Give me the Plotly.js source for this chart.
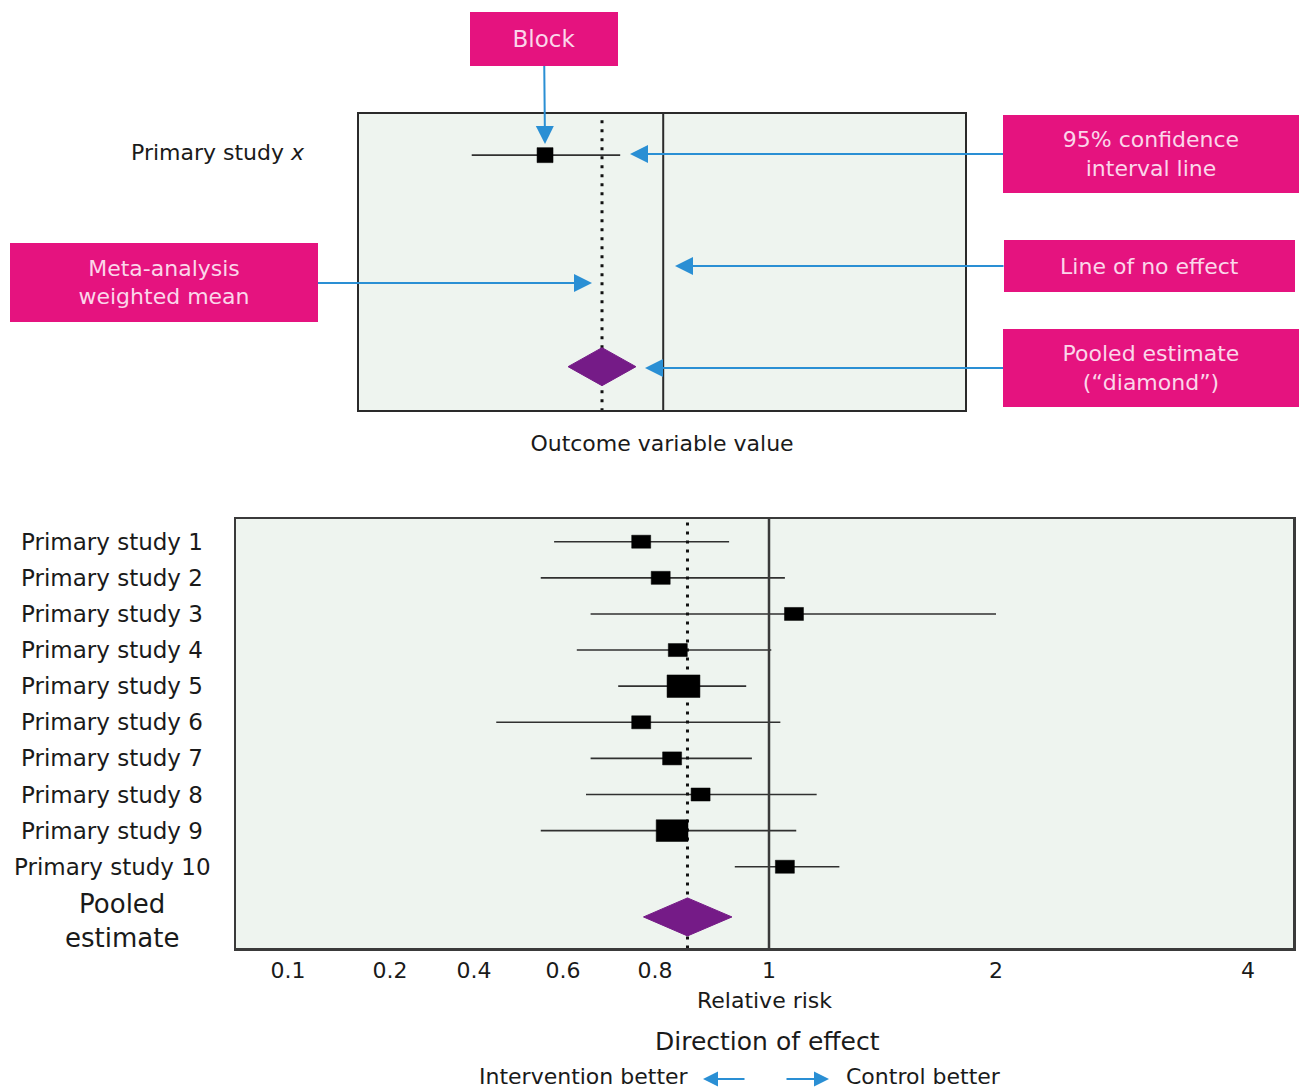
<!DOCTYPE html>
<html>
<head>
<meta charset="utf-8">
<script src="https://cdn.plot.ly/plotly-3.0.1.min.js"></script>
<style>
  html, body { margin: 0; padding: 0; background: #ffffff; }
  #chart { width: 1304px; height: 1090px; }
</style>
</head>
<body>
<div id="chart"></div>
<script>
// ---------------- data ----------------
const studyNames = ['Primary study 1', 'Primary study 2', 'Primary study 3', 'Primary study 4',
  'Primary study 5', 'Primary study 6', 'Primary study 7', 'Primary study 8',
  'Primary study 9', 'Primary study 10'];
const rrEstimate = [0.77, 0.81, 1.11, 0.84, 0.85, 0.77, 0.83, 0.88, 0.83, 1.07];
const rrLower    = [0.58, 0.55, 0.66, 0.63, 0.72, 0.45, 0.66, 0.65, 0.55, 0.94];
const rrUpper    = [0.93, 1.07, 2.00, 1.01, 0.96, 1.05, 0.97, 1.21, 1.12, 1.31];
const studyWeight = [1, 1, 1, 1, 3, 1, 1, 1, 2.8, 1];   // relative weight (block area)

const pooledLabel = 'Pooled<br>estimate';
const pooledRR = [0.775, 0.857, 0.935];                  // lower, estimate, upper
const noEffectRR = 1;

const tickValues = [0.1, 0.2, 0.4, 0.6, 0.8, 1, 2, 4];
const tickLabels = ['0.1', '0.2', '0.4', '0.6', '0.8', '1', '2', '4'];

// top explanatory panel (arbitrary outcome units, no ticks)
const exampleLabel = 'Primary study <i>x</i>';
const exampleStudy = [1.86, 3.07, 4.31];                 // lower, estimate, upper
const examplePooled = [3.45, 4.01, 4.57];                // lower, estimate, upper
const exampleNoEffect = 5.02;

// ---------------- scale (schematic, non-uniform relative-risk axis) ----------------
// where each tick value sits along the drawn axis (axis units == pixels of plot width)
const axisStops = [52, 154, 238, 327, 419, 533, 760, 1012];
function rrToAxis(v) {
  for (let i = 0; i < tickValues.length - 1; i++) {
    const a = tickValues[i], b = tickValues[i + 1];
    if (v <= b || i === tickValues.length - 2) {
      return axisStops[i] + (v - a) / (b - a) * (axisStops[i + 1] - axisStops[i]);
    }
  }
}

// ---------------- layout geometry ----------------
const W = 1304, H = 1090;
const fx = p => p / W;
const fy = p => 1 - p / H;
const ROWPX = 36.1;              // pixels per row unit (both panels)
const BOTTOM_RANGE = [12.25, 0.371];
const TOP_RANGE = [8.2, 0];
const TOP_UNIT_PX = 60.6;        // pixels per outcome unit in top panel

const blockBaseW = 19, blockBaseH = 13;    // px for weight 1
const diamondHalfH = 19;                   // px
const pooledRow = 11.39;
const exampleRow = 1.14, examplePooledRow = 7.0;

const ciColor = '#303030';
const frameColor = '#3a3a3a';
const purple = '#751b87';
const pink = '#e5137f';
const pinkText = '#fbd6ea';
const blue = '#2a8fd4';

const traces = [];

function rectTrace(cx, cy, w, h, xa, ya) {
  return { type: 'scatter', mode: 'lines', fill: 'toself', fillcolor: '#000',
    x: [cx - w / 2, cx + w / 2, cx + w / 2, cx - w / 2, cx - w / 2],
    y: [cy - h / 2, cy - h / 2, cy + h / 2, cy + h / 2, cy - h / 2],
    xaxis: xa, yaxis: ya, line: { color: '#000', width: 0.5 }, hoverinfo: 'skip' };
}

// --- bottom panel ---
const rows = studyNames.map((_, i) => i + 1);
const ciX = [], ciY = [];
rows.forEach((r, i) => {
  ciX.push(rrToAxis(rrLower[i]), rrToAxis(rrUpper[i]), null);
  ciY.push(r, r, null);
});
traces.push({ type: 'scatter', mode: 'lines', x: ciX, y: ciY, xaxis: 'x', yaxis: 'y',
  line: { color: ciColor, width: 1.6 }, hoverinfo: 'skip' });

// weighted mean (dotted)
traces.push({ type: 'scatter', mode: 'lines', x: [rrToAxis(pooledRR[1]), rrToAxis(pooledRR[1])],
  y: [0.47, BOTTOM_RANGE[0]], xaxis: 'x', yaxis: 'y',
  line: { color: '#111', width: 3, dash: '3px,6px' }, hoverinfo: 'skip' });

// line of no effect
traces.push({ type: 'scatter', mode: 'lines', x: [rrToAxis(noEffectRR), rrToAxis(noEffectRR)],
  y: [BOTTOM_RANGE[1], BOTTOM_RANGE[0]], xaxis: 'x', yaxis: 'y',
  line: { color: frameColor, width: 2.5 }, hoverinfo: 'skip' });

// blocks centred on the estimate, size from weight
rows.forEach((r, i) => {
  const s = Math.sqrt(studyWeight[i]);
  traces.push(rectTrace(rrToAxis(rrEstimate[i]), r, blockBaseW * s, blockBaseH * s / ROWPX, 'x', 'y'));
});

// pooled diamond
const dh = diamondHalfH / ROWPX;
traces.push({ type: 'scatter', mode: 'lines', fill: 'toself', fillcolor: purple,
  x: [rrToAxis(pooledRR[0]), rrToAxis(pooledRR[1]), rrToAxis(pooledRR[2]), rrToAxis(pooledRR[1]), rrToAxis(pooledRR[0])],
  y: [pooledRow, pooledRow - dh, pooledRow, pooledRow + dh, pooledRow],
  xaxis: 'x', yaxis: 'y', line: { color: purple, width: 1 }, hoverinfo: 'skip' });

// --- top panel ---
traces.push({ type: 'scatter', mode: 'lines', x: [exampleStudy[0], exampleStudy[2]],
  y: [exampleRow, exampleRow], xaxis: 'x2', yaxis: 'y2',
  line: { color: ciColor, width: 1.6 }, hoverinfo: 'skip' });
traces.push({ type: 'scatter', mode: 'lines', x: [examplePooled[1], examplePooled[1]],
  y: [0.17, TOP_RANGE[0]], xaxis: 'x2', yaxis: 'y2',
  line: { color: '#111', width: 3, dash: '3px,6px' }, hoverinfo: 'skip' });
traces.push({ type: 'scatter', mode: 'lines', x: [exampleNoEffect, exampleNoEffect],
  y: [TOP_RANGE[1], TOP_RANGE[0]], xaxis: 'x2', yaxis: 'y2',
  line: { color: '#2a2a2a', width: 2 }, hoverinfo: 'skip' });
traces.push(rectTrace(exampleStudy[1], exampleRow, 16 / TOP_UNIT_PX, 15 / ROWPX, 'x2', 'y2'));
traces.push({ type: 'scatter', mode: 'lines', fill: 'toself', fillcolor: purple,
  x: [examplePooled[0], examplePooled[1], examplePooled[2], examplePooled[1], examplePooled[0]],
  y: [examplePooledRow, examplePooledRow - dh, examplePooledRow, examplePooledRow + dh, examplePooledRow],
  xaxis: 'x2', yaxis: 'y2', line: { color: purple, width: 1 }, hoverinfo: 'skip' });

// ---------------- annotations ----------------
const annotations = [];
studyNames.forEach((n, i) => {
  annotations.push({ xref: 'paper', yref: 'y', x: fx(112), y: rows[i], text: n,
    xanchor: 'center', yanchor: 'middle', showarrow: false, font: { size: 23, color: '#1a1a1a' } });
});
annotations.push({ xref: 'paper', yref: 'y', x: fx(122), y: pooledRow, yshift: -4, text: pooledLabel,
  xanchor: 'center', yanchor: 'middle', showarrow: false, font: { size: 26, color: '#1a1a1a' } });
annotations.push({ xref: 'paper', yref: 'y2', x: fx(307), y: exampleRow, yshift: 3, text: exampleLabel,
  xanchor: 'right', yanchor: 'middle', showarrow: false, font: { size: 22, color: '#1a1a1a' } });

function pinkBox(text, cx, cy, w, h, tipX, tipY, size) {
  return { xref: 'paper', yref: 'paper', axref: 'paper', ayref: 'paper',
    x: fx(tipX), y: fy(tipY), ax: fx(cx), ay: fy(cy), text: text,
    width: w, height: h, bgcolor: pink, borderpad: 0, borderwidth: 0,
    font: { size: size, color: pinkText }, showarrow: true,
    arrowcolor: blue, arrowwidth: 2, arrowhead: 2, arrowsize: 1.8 };
}
annotations.push(pinkBox('Block', 544, 39, 148, 54, 545, 144, 23));
annotations.push(pinkBox('95% confidence<br>interval line', 1151, 154, 296, 78, 630, 154, 22));
annotations.push(pinkBox('Line of no effect', 1149, 266, 291, 52, 675, 266, 22));
annotations.push(pinkBox('Pooled estimate<br>(“diamond”)', 1151, 368, 296, 78, 645, 368, 22));
annotations.push(pinkBox('Meta-analysis<br>weighted mean', 164, 283, 308, 79, 592, 283, 22));

annotations.push({ xref: 'paper', yref: 'paper', x: fx(767), y: fy(1041), text: 'Direction of effect',
  showarrow: false, xanchor: 'center', yanchor: 'middle', font: { size: 25, color: '#1a1a1a' } });
annotations.push({ xref: 'paper', yref: 'paper', x: fx(691), y: fy(1076), text: 'Intervention better',
  showarrow: false, xanchor: 'right', yanchor: 'middle', font: { size: 22, color: '#1a1a1a' } });
annotations.push({ xref: 'paper', yref: 'paper', x: fx(844), y: fy(1076), text: 'Control better',
  showarrow: false, xanchor: 'left', yanchor: 'middle', font: { size: 22, color: '#1a1a1a' } });
annotations.push({ xref: 'paper', yref: 'paper', axref: 'paper', ayref: 'paper',
  x: fx(703), y: fy(1079), ax: fx(746), ay: fy(1079), text: '', showarrow: true,
  arrowcolor: blue, arrowwidth: 2, arrowhead: 2, arrowsize: 1.5 });
annotations.push({ xref: 'paper', yref: 'paper', axref: 'paper', ayref: 'paper',
  x: fx(829), y: fy(1079), ax: fx(785), ay: fy(1079), text: '', showarrow: true,
  arrowcolor: blue, arrowwidth: 2, arrowhead: 2, arrowsize: 1.5 });

const layout = {
  width: W, height: H,
  margin: { l: 0, r: 0, t: 0, b: 0, pad: 0 },
  paper_bgcolor: '#ffffff', plot_bgcolor: '#eef4ef',
  font: { family: 'DejaVu Sans', color: '#1a1a1a', size: 22 },
  showlegend: false,
  xaxis: { domain: [fx(236), fx(1293)], range: [0, 1057], anchor: 'y',
    showgrid: false, zeroline: false, showline: true, mirror: true,
    linecolor: frameColor, linewidth: 2.5, ticks: '',
    tickmode: 'array', tickvals: tickValues.map(rrToAxis), ticktext: tickLabels,
    tickfont: { size: 22, color: '#1a1a1a' }, ticklabelstandoff: 1,
    title: { text: 'Relative risk', font: { size: 22, color: '#1a1a1a' }, standoff: 11 },
    fixedrange: true },
  yaxis: { domain: [fy(948), fy(519)], range: BOTTOM_RANGE, anchor: 'x',
    showgrid: false, zeroline: false, showline: true, mirror: true,
    linecolor: frameColor, linewidth: 2.5, ticks: '', showticklabels: false, fixedrange: true },
  xaxis2: { domain: [fx(359), fx(965)], range: [0, 10], anchor: 'y2',
    showgrid: false, zeroline: false, showline: true, mirror: true,
    linecolor: '#2a2a2a', linewidth: 2, ticks: '', showticklabels: false,
    title: { text: 'Outcome variable value', font: { size: 22, color: '#1a1a1a' }, standoff: 25 },
    fixedrange: true },
  yaxis2: { domain: [fy(410), fy(114)], range: TOP_RANGE, anchor: 'x2',
    showgrid: false, zeroline: false, showline: true, mirror: true,
    linecolor: '#2a2a2a', linewidth: 2, ticks: '', showticklabels: false, fixedrange: true },
  annotations: annotations
};

Plotly.newPlot('chart', traces, layout, { displayModeBar: false, staticPlot: true });
</script>
</body>
</html>
